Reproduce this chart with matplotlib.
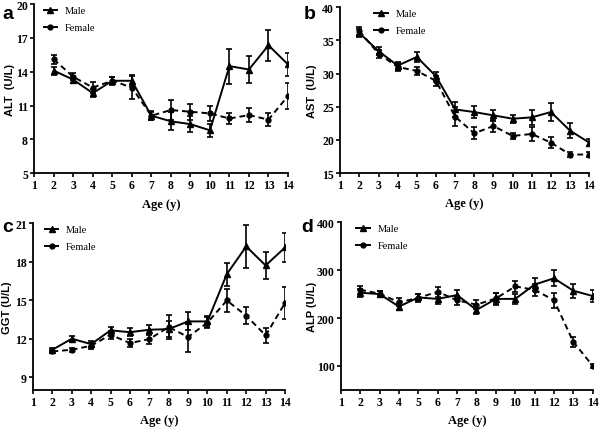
import numpy as np
import matplotlib
matplotlib.use("Agg")
import matplotlib.pyplot as plt

ages = np.arange(2, 15)

# ALT (U/L)
alt_male = [14.1, 13.3, 12.1, 13.2, 13.2, 10.1, 9.6, 9.35, 8.8, 14.5, 14.2, 16.35, 14.65]
alt_male_err = [0.35, 0.3, 0.35, 0.3, 0.5, 0.35, 0.8, 0.7, 0.6, 1.55, 1.2, 1.4, 1.0]
alt_female = [15.1, 13.55, 12.6, 13.2, 12.6, 10.1, 10.6, 10.45, 10.3, 9.85, 10.15, 9.75, 11.85]
alt_female_err = [0.4, 0.3, 0.45, 0.35, 1.0, 0.4, 0.85, 0.7, 0.7, 0.5, 0.6, 0.6, 1.15]

# AST (U/L)
ast_male = [36.1, 33.4, 31.2, 32.5, 29.6, 24.6, 24.2, 23.7, 23.2, 23.4, 24.2, 21.4, 19.6]
ast_male_err = [0.6, 0.6, 0.6, 0.7, 0.7, 1.1, 0.9, 0.8, 0.6, 1.1, 1.3, 1.1, 0.5]
ast_female = [36.4, 33.0, 31.0, 30.4, 28.9, 23.5, 21.0, 22.1, 20.6, 20.9, 19.6, 17.8, 17.8]
ast_female_err = [0.6, 0.6, 0.6, 0.6, 0.7, 1.4, 0.9, 0.9, 0.5, 1.0, 0.8, 0.4, 0.4]

# GGT (U/L)
ggt_male = [11.13, 11.99, 11.57, 12.64, 12.5, 12.69, 12.74, 13.34, 13.34, 17.03, 19.18, 17.7, 19.1]
ggt_male_err = [0.15, 0.25, 0.25, 0.3, 0.3, 0.35, 0.6, 0.7, 0.4, 0.9, 1.65, 1.05, 1.1]
ggt_female = [11.0, 11.13, 11.44, 12.3, 11.65, 11.96, 12.9, 12.12, 13.25, 14.97, 13.78, 12.25, 14.77]
ggt_female_err = [0.15, 0.15, 0.25, 0.3, 0.3, 0.35, 0.9, 1.2, 0.4, 0.9, 0.65, 0.6, 1.25]

# ALP (U/L)
alp_male = [253, 250, 224, 243, 240, 248, 217, 240, 240, 270, 283, 257, 246]
alp_male_err = [8, 6, 8, 8, 10, 10, 9, 12, 10, 13, 17, 15, 12]
alp_female = [259, 251, 233, 242, 255, 237, 228, 241, 266, 259, 237, 150, 100]
alp_female_err = [8, 5, 8, 8, 10, 10, 9, 12, 12, 13, 15, 10, 5]

panels = [
    ("a", "ALT  (U/L)", alt_male, alt_male_err, alt_female, alt_female_err,
     (5, 20), [5, 8, 11, 14, 17, 20]),
    ("b", "AST  (U/L)", ast_male, ast_male_err, ast_female, ast_female_err,
     (15, 40), [15, 20, 25, 30, 35, 40]),
    ("c", "GGT (U/L)", ggt_male, ggt_male_err, ggt_female, ggt_female_err,
     (8, 21), [9, 12, 15, 18, 21]),
    ("d", "ALP (U/L)", alp_male, alp_male_err, alp_female, alp_female_err,
     (50, 400), [100, 200, 300, 400]),
]

# axes boxes in figure fraction [left, bottom, width, height]
boxes = [
    [0.057, 0.596, 0.423, 0.392],
    [0.567, 0.596, 0.415, 0.385],
    [0.055, 0.093, 0.420, 0.387],
    [0.568, 0.093, 0.420, 0.389],
]
# panel letter positions, y label x offset, legend x anchor
letter_pos = [(0.004, 0.955), (0.507, 0.955), (0.004, 0.462), (0.502, 0.462)]
ylabel_x = [-0.075, -0.095, -0.083, -0.095]
legend_x = [0.0, 0.1, 0.01, 0.025]

serif = "Liberation Serif"
sans = "Liberation Sans"

fig = plt.figure(figsize=(6.0, 4.31), dpi=100)

for i, ((letter, ylabel, m, me, f, fe, ylim, yticks), box) in enumerate(zip(panels, boxes)):
    ax = fig.add_axes(box)
    ax.errorbar(ages, m, yerr=me, color="black", lw=1.4, marker="^", ms=4,
                capsize=2.2, elinewidth=1.2, capthick=1.2, label="Male")
    ax.errorbar(ages, f, yerr=fe, color="black", lw=1.4, marker="o", ms=3.5,
                ls=(0, (3, 2)), capsize=2.2, elinewidth=1.2, capthick=1.2,
                label="Female")
    ax.set_xlim(1, 14)
    ax.set_ylim(*ylim)
    ax.set_xticks(range(1, 15))
    ax.set_yticks(yticks)
    for s in ["top", "right"]:
        ax.spines[s].set_visible(False)
    for s in ["left", "bottom"]:
        ax.spines[s].set_linewidth(1.3)
    ax.tick_params(width=1.2, length=3, labelsize=8.5, pad=1.5)
    for lab in ax.get_xticklabels() + ax.get_yticklabels():
        lab.set_fontfamily(serif)
        lab.set_fontweight("bold")
    ax.set_xlabel("Age (y)", fontfamily=serif, fontweight="bold", fontsize=9)
    ax.xaxis.set_label_coords(0.5, -0.145)
    ax.set_ylabel(ylabel, fontfamily=sans, fontweight="bold", fontsize=8)
    ax.yaxis.set_label_coords(ylabel_x[i], 0.5)

    handles, labels = ax.get_legend_handles_labels()
    handles = [h[0] for h in handles]
    leg = ax.legend(handles, labels, loc="upper left", frameon=False,
                    bbox_to_anchor=(legend_x[i], 1.045), handlelength=1.3,
                    handletextpad=0.7, labelspacing=0.75,
                    prop={"family": serif, "size": 7.5})
    for line in leg.get_lines():
        line.set_linestyle("-")

    fig.text(letter_pos[i][0], letter_pos[i][1], letter,
             fontfamily=sans, fontweight="bold", fontsize=14)

fig.savefig("out.png", dpi=100)
